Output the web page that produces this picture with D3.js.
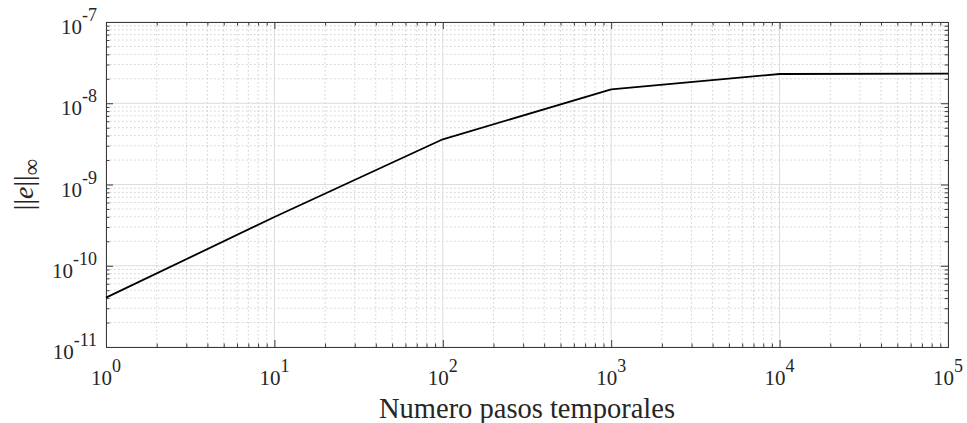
<!DOCTYPE html>
<html><head><meta charset="utf-8">
<script src="https://cdn.jsdelivr.net/npm/d3@7"></script>
<style>body{margin:0;background:#fff}svg{display:block}</style>
</head><body>
<svg id="chart" width="967" height="423"></svg>
<script>
const steps = [1, 10, 100, 1000, 10000, 100000];
const errInf = [4.05e-11, 3.98e-10, 3.6e-9, 1.48e-8, 2.29e-8, 2.32e-8];
const xTickExp = [0, 1, 2, 3, 4, 5];
const yTickExp = [-11, -10, -9, -8, -7];
const xLabel = "Numero pasos temporales";

const W = 967, H = 423;
const m = {left: 106, right: 19, top: 22, bottom: 76};
const svg = d3.select("#chart");
const x = d3.scaleLog().domain([1, 1e5]).range([m.left, W - m.right]);
const y = d3.scaleLog().domain([1e-11, 1e-7]).range([H - m.bottom, m.top]);
const X0 = x.range()[0], X1 = x.range()[1], Y0 = y.range()[1], Y1 = y.range()[0];

const font = "'Liberation Serif', 'DejaVu Serif', serif";
const axisCol = "#3a3a3a";

const xMinor = [], yMinor = [];
for (let e = 0; e < 5; e++) for (let k = 2; k <= 9; k++) xMinor.push(k * Math.pow(10, e));
for (let e = -11; e < -7; e++) for (let k = 2; k <= 9; k++) yMinor.push(k * Math.pow(10, e));
const xMajor = xTickExp.map(e => Math.pow(10, e));
const yMajor = yTickExp.map(e => Math.pow(10, e));

const g = svg.append("g");
g.selectAll(".gxm").data(xMinor).enter().append("line")
  .attr("x1", d => x(d)).attr("x2", d => x(d)).attr("y1", Y0).attr("y2", Y1)
  .attr("stroke", "#cfcfcf").attr("stroke-width", 1).attr("stroke-dasharray", "1.5,2.5");
g.selectAll(".gym").data(yMinor).enter().append("line")
  .attr("y1", d => y(d)).attr("y2", d => y(d)).attr("x1", X0).attr("x2", X1)
  .attr("stroke", "#cfcfcf").attr("stroke-width", 1).attr("stroke-dasharray", "1.5,2.5");
g.selectAll(".gxM").data(xMajor).enter().append("line")
  .attr("x1", d => x(d)).attr("x2", d => x(d)).attr("y1", Y0).attr("y2", Y1)
  .attr("stroke", "#dcdcdc").attr("stroke-width", 1);
g.selectAll(".gyM").data(yMajor).enter().append("line")
  .attr("y1", d => y(d)).attr("y2", d => y(d)).attr("x1", X0).attr("x2", X1)
  .attr("stroke", "#dcdcdc").attr("stroke-width", 1);

function addAxis(axisGen, tx, ty) {
  const a = svg.append("g").attr("transform", `translate(${tx},${ty})`).call(axisGen);
  a.selectAll("text").remove();
  a.select(".domain").attr("stroke", axisCol);
  a.selectAll("line").attr("stroke", axisCol);
  return a;
}
addAxis(d3.axisBottom(x).tickValues(xMinor).tickSize(-3.5).tickFormat(""), 0, Y1);
addAxis(d3.axisBottom(x).tickValues(xMajor).tickSize(-7).tickFormat(""), 0, Y1);
addAxis(d3.axisTop(x).tickValues(xMinor).tickSize(-3.5).tickFormat(""), 0, Y0);
addAxis(d3.axisTop(x).tickValues(xMajor).tickSize(-7).tickFormat(""), 0, Y0);
addAxis(d3.axisLeft(y).tickValues(yMinor).tickSize(-3.5).tickFormat(""), X0, 0);
addAxis(d3.axisLeft(y).tickValues(yMajor).tickSize(-7).tickFormat(""), X0, 0);
addAxis(d3.axisRight(y).tickValues(yMinor).tickSize(-3.5).tickFormat(""), X1, 0);
addAxis(d3.axisRight(y).tickValues(yMajor).tickSize(-7).tickFormat(""), X1, 0);

svg.append("path").datum(steps.map((s, i) => [s, errInf[i]]))
  .attr("fill", "none").attr("stroke", "#000").attr("stroke-width", 1.8)
  .attr("stroke-linejoin", "round")
  .attr("d", d3.line().x(d => x(d[0])).y(d => y(d[1])));

svg.selectAll(".xl").data(xTickExp).enter().append("text")
  .attr("x", d => x(Math.pow(10, d))).attr("y", Y1 + 38)
  .attr("text-anchor", "middle").attr("font-family", font).attr("font-size", 21)
  .attr("fill", "#262626")
  .each(function(d) {
    const t = d3.select(this);
    t.append("tspan").text("10");
    t.append("tspan").attr("dy", -13).attr("font-size", 18).text(d);
  });
svg.selectAll(".yl").data(yTickExp).enter().append("text")
  .attr("x", X0 - 9).attr("y", d => y(Math.pow(10, d)) + 12)
  .attr("text-anchor", "end").attr("font-family", font).attr("font-size", 21)
  .attr("fill", "#262626")
  .each(function(d) {
    const t = d3.select(this);
    t.append("tspan").text("10");
    t.append("tspan").attr("dy", -13).attr("font-size", 18).text(d < 0 ? "-" + (-d) : d);
  });

svg.append("text").attr("x", (X0 + X1) / 2).attr("y", 418)
  .attr("text-anchor", "middle").attr("font-family", font).attr("font-size", 28.5)
  .attr("fill", "#262626").text(xLabel);

const yl = svg.append("text").attr("transform", `translate(33,${(Y0 + Y1) / 2}) rotate(-90)`)
  .attr("text-anchor", "middle").attr("font-family", font).attr("font-size", 28)
  .attr("fill", "#262626");
yl.append("tspan").text("||");
yl.append("tspan").attr("font-style", "italic").text("e");
yl.append("tspan").text("||");
yl.append("tspan").attr("dy", 6).attr("font-size", 23).text("∞");
</script>
</body></html>
